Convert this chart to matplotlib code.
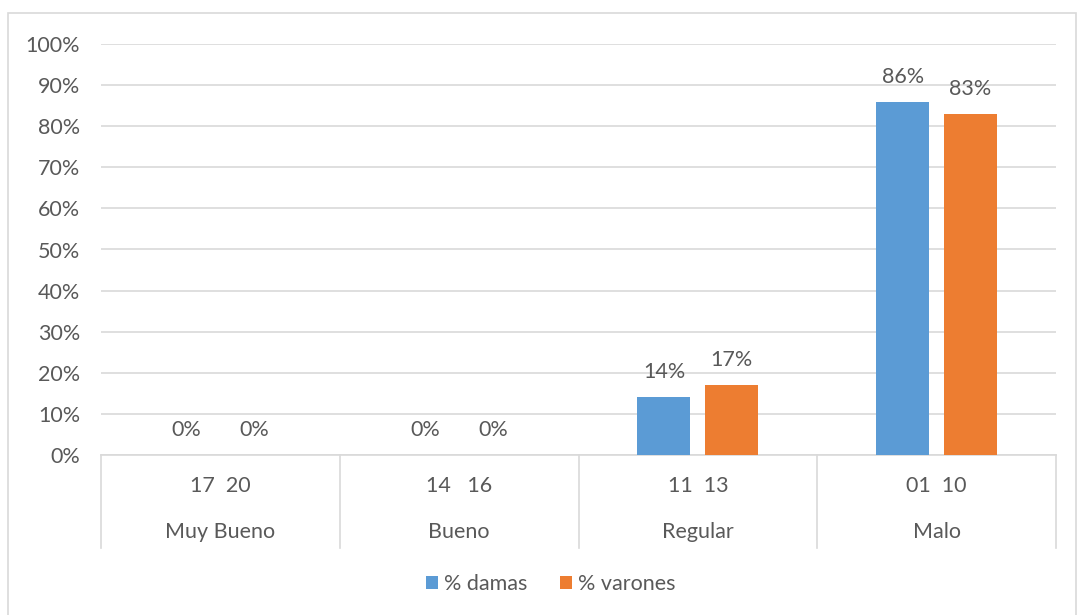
import matplotlib.pyplot as plt
from matplotlib.patches import Rectangle
import numpy as np

plt.rcParams['font.family'] = ['Lato', 'DejaVu Sans']

rangos = ["17  20", "14   16", "11  13", "01  10"]
categorias = ["Muy Bueno", "Bueno", "Regular", "Malo"]
damas = [0, 0, 14, 86]
varones = [0, 0, 17, 83]

azul = "#5B9BD5"
naranja = "#ED7D31"
gris_txt = "#595959"
gris_linea = "#D9D9D9"
fs = 15.5

fig = plt.figure(figsize=(10.78, 6.15), dpi=100)
ax = fig.add_axes([101/1078, 1-455/615, (1056-101)/1078, (455-44)/615])

x = np.arange(len(categorias))
ancho = 0.222
desp = 0.142
b1 = ax.bar(x - desp, damas, ancho, color=azul, label="% damas", zorder=3)
b2 = ax.bar(x + desp, varones, ancho, color=naranja, label="% varones", zorder=3)

for barras in (b1, b2):
    for b in barras:
        h = b.get_height()
        ax.annotate(f"{h:.0f}%", (b.get_x() + b.get_width()/2, h),
                    xytext=(0, 18), textcoords="offset points",
                    ha="center", va="center", fontsize=fs, color=gris_txt)

ax.set_xlim(-0.5, len(categorias) - 0.5)
ax.set_ylim(0, 100)
ax.set_yticks(range(0, 101, 10))
ax.set_yticklabels([f"{v}%" for v in range(0, 101, 10)])
ax.tick_params(axis="y", length=0, labelsize=fs, labelcolor=gris_txt, pad=15)
ax.set_xticks([])
ax.grid(axis="y", color=gris_linea, linewidth=1.2, zorder=0)
for s in ["top", "right", "left"]:
    ax.spines[s].set_visible(False)
ax.spines["bottom"].set_color(gris_linea)
ax.spines["bottom"].set_linewidth(1.2)

# two-level category axis
trans = ax.get_xaxis_transform()
for i in range(len(categorias) + 1):
    ax.plot([i - 0.5, i - 0.5], [0, -93/411], transform=trans, color=gris_linea,
            linewidth=1.2, clip_on=False)
for i, (r, c) in enumerate(zip(rangos, categorias)):
    ax.text(i, -31/411, r, transform=trans, ha="center", va="center",
            fontsize=fs, color=gris_txt)
    ax.text(i, -77/411, c, transform=trans, ha="center", va="center",
            fontsize=fs, color=gris_txt)

fig.legend(handles=[b1, b2], loc="center", bbox_to_anchor=(551/1078, 1-584/615),
           ncol=2, frameon=False, fontsize=fs, labelcolor=gris_txt,
           handlelength=0.55, handleheight=0.55, handletextpad=0.3, columnspacing=1.5)

fig.patches.append(Rectangle((8/1078, -0.01), 1068/1078, 1-13/615+0.01,
                             transform=fig.transFigure, fill=False,
                             edgecolor=gris_linea, linewidth=1.2))

fig.savefig("out.png", dpi=100)
